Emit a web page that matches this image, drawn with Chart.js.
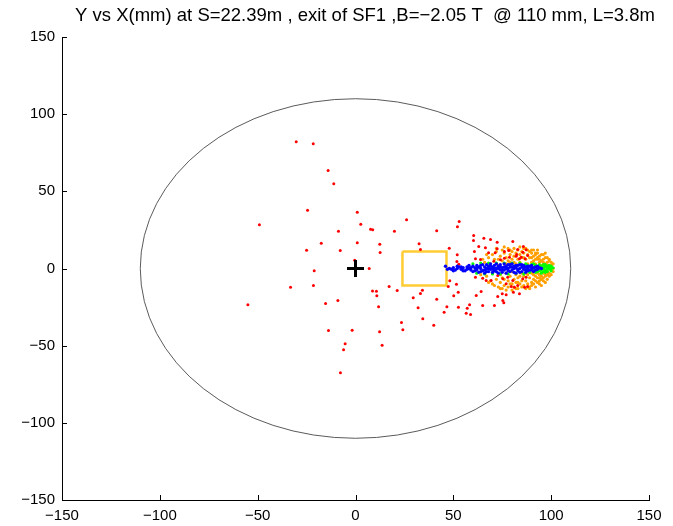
<!DOCTYPE html>
<html>
<head>
<meta charset="utf-8">
<script src="https://cdn.jsdelivr.net/npm/chart.js@4.4.0/dist/chart.umd.min.js"></script>
<style>
  html, body { margin: 0; padding: 0; background: #fff; }
  #wrap { width: 673px; height: 526px; }
</style>
</head>
<body>
<div id="wrap"><canvas id="beamChart"></canvas></div>
<script>
// Chart text and axis ticks
const chartTitle = 'Y vs X(mm) at S=22.39m , exit of SF1 ,B=\u22122.05 T  @ 110 mm, L=3.8m';
const axisMin = -150;
const axisMax = 150;
const tickStep = 50;

// Pipe aperture (mm) and the yellow box corners
const apertureRadius = 110;
const boxX = [24, 46.5, 46.5, 24, 24];
const boxY = [11, 11, -11, -11, 11];

// Beam centre marker
const centreX = [0];
const centreY = [0];

// Red particles (x, y in mm)
const redPoints = [
    [-30.3, 82.1], [-21.6, 80.8], [-14.0, 63.5], [-11.1, 54.9], [-24.5, 37.8], [0.9, 36.5],
    [-49.1, 28.3], [2.7, 28.7], [-8.7, 24.2], [7.7, 25.5], [8.8, 25.1], [19.9, 24.2],
    [26.1, 31.6], [41.5, 24.4], [53.0, 30.5], [52.1, 27.0], [-17.5, 16.4], [0.9, 16.7],
    [12.4, 15.7], [-25.0, 11.9], [-7.8, 11.7], [12.6, 10.4], [32.5, 16.0], [33.2, 12.3],
    [47.9, 13.2], [52.0, 8.9], [-0.4, 5.4], [7.0, 0], [-21.1, -1.5], [-33.2, -12.1],
    [-21.5, -11.0], [17.2, -11.7], [21.3, -14.3], [8.7, -14.5], [10.7, -14.7], [10.9, -17.7],
    [34.2, -14.1], [33.2, -16.2], [29.5, -19.0], [41.5, -19.9], [47.4, -11.7], [48.2, -8.0],
    [51.6, -10.2], [52.5, -15.4], [50.2, -17.7], [52.8, 2.8], [51.8, 4.5], [-55.0, -23.5],
    [-15.3, -22.7], [-9.0, -20.7], [11.8, -24.8], [32.0, -25.5], [34.4, -32.6], [40.0, -36.7],
    [45.3, -28.3], [46.7, -24.8], [57.1, -25.7], [56.6, -29.0], [23.5, -35.0], [24.2, -39.7],
    [-13.8, -40.2], [-1.7, -40.0], [12.3, -41.0], [13.6, -49.7], [-5.3, -48.8], [-6.1, -52.7],
    [-7.7, -67.6],
    [60.4, 21.4], [60.3, 18.1], [65.6, 19.6], [69.0, 18.8], [72.4, 17.0], [80.4, 17.5],
    [63.0, 14.3], [66.4, 13.4], [72.4, 12.8], [68.0, 10.2], [71.4, 10.2], [76.1, 11.0],
    [78.3, 11.7], [82.9, 12.3], [85.8, 14.3], [85.5, 10.6], [87.2, 12.1], [60.8, 11.0],
    [61.3, 6.3], [63.9, 5.8], [70.7, 4.7], [74.1, 5.6], [76.1, 6.7], [78.7, 7.3],
    [82.1, 8.0], [84.7, 7.3], [86.7, 6.3], [88.0, 8.4], [82.4, 9.1], [83.8, 6.3],
    [61.3, -5.6], [65.0, -6.3], [69.3, -7.8], [66.8, -7.8], [72.7, -4.5], [75.3, -6.7],
    [77.0, -9.9], [77.8, -5.6], [80.4, -7.8], [82.9, -11.0], [85.5, -6.7], [87.2, -5.6],
    [86.4, -12.1], [61.7, -17.5], [64.2, -14.9], [72.7, -18.1], [75.0, -16.4], [77.0, -17.0],
    [75.3, -20.7], [75.8, -22.2], [71.0, -24.0], [65.0, -24.0], [58.3, -23.5], [58.8, -29.8],
    [52.6, -25.1], [81.2, -12.1], [79.6, -11.7], [83.8, -16.4], [88.0, -11.7], [80.7, -15.4]
];

// Orange particles
const orangePoints = [
    [66, 4], [67, -5], [68, 7], [69, -8], [69, 3], [70, -3], [70, 9], [70, -10],
    [71, 6], [72, -7], [72, 11], [73, -12], [73, 2], [74, 8], [74, -4], [74, -9],
    [75, 12], [75, -13], [75, 5], [75, -6], [76, 10], [76, -11], [77, 3], [77, -3],
    [77, 7], [78, -8], [78, 13], [78, -12], [79, 9], [79, -5], [79, 4], [80, 11],
    [80, -10], [80, 6], [80, -14], [80, -2], [81, 13], [81, 8], [81, -7], [81, -12],
    [82, 3], [82, -4], [82, 10], [82, -9], [83, 12], [83, -13], [83, 6], [83, -6],
    [84, 9], [84, -10], [84, 4], [84, 14], [85, -3], [85, 11], [85, -8], [85, -12],
    [85, 7], [86, 2], [86, 10], [86, -5], [86, -11], [87, 13], [87, 6], [87, -8],
    [87, -13], [88, 9], [88, -4], [88, 3], [88, -10], [89, 11], [89, -6], [89, 7],
    [89, -12], [90, 4], [90, -9], [90, 10], [90, -3], [90, -11], [91, 8], [91, -7],
    [91, 5], [91, -10], [92, 9], [92, -5], [92, 3], [92, -8], [93, 6], [93, -9],
    [93, -3], [93, 7], [94, 4], [94, -6], [94, 8], [94, -4], [95, 5], [95, -5],
    [95, 2], [95, -7], [96, 4], [96, -3], [96, 6], [97, -4], [97, 3], [97, -5],
    [98, 2], [98, -2], [98, 4], [99, -3], [99, 1], [100, 2], [100, -1], [101, 0],
    [95, 9], [93, 10], [96, -8], [94, -10], [91, 12], [89, -13], [97, 7], [99, 5],
    [73, 6], [76, -7], [78, 5], [79, -10], [81, 4], [83, -9], [84, -5], [86, 7],
    [87, -3], [88, 12], [90, 7], [91, -4], [92, 6], [93, -6], [94, 6], [96, 1],
    [96, 9], [97, -9], [98, 7], [98, -7], [99, 6], [99, -5], [100, 4], [100, -4],
    [101, 3], [101, -2], [97, 10], [95, -11], [93, 12], [92, -12], [96, -6], [98, -4],
    [64, -4], [65, 6], [67, 9], [68, -9], [71, -11], [72, 13], [74, -13], [76, 14],
    [77, -14], [79, 12], [82, -13], [86, 13], [88, -12], [90, 12], [92, 10], [94, -8]
];

// Green particles
const greenPoints = [
    [60, 3], [62, -3], [64, 3.5], [66, -3.5], [68, 3.5], [70, -3.5], [72, 3.5], [74, -3.5],
    [76, 3.5], [78, -3.5], [80, 3.5], [82, -3], [84, 3.5], [86, -3.5], [87, 3], [88, 2],
    [89, -2.5], [90, 2.5], [91, -1], [91, 3], [92, -2.5], [92, 2], [93, 1], [93, -2],
    [94, 2.5], [94, -1.5], [95, -3], [95, 1.5], [96, 0], [96, 2.5], [96, -2], [97, 1],
    [97, -1], [97, 2.5], [98, 0], [98, -2], [98, 1.5], [99, -0.5], [99, 1], [100, 0],
    [100, -1.5], [100, 1.5], [101, 0.5], [94, 0], [95, -1], [96, 1.5], [97, -2.5], [99, 2]
];

// Blue particles
const bluePoints = [
    [46, 1.5], [48, 0], [49, -0.5], [50, 0.5], [51, -1], [52, 0], [53, 1], [54, -0.5],
    [55, 0.5], [56, -1.5], [57, 1], [58, 0], [59, -1], [60, 1.5], [60, -2], [61, 0.5],
    [62, 2], [62, -1], [63, -2.5], [63, 1], [64, 0], [65, 2.5], [65, -1.5], [66, 1],
    [66, -3], [67, 0], [67, 2.5], [68, -2], [68, 1.5], [69, -0.5], [69, 3], [70, -2.5],
    [70, 1], [71, 2], [71, -1.5], [72, 0], [72, 3], [73, -3], [73, 1.5], [74, -1],
    [74, 2.5], [75, 0.5], [75, -2.5], [76, 3], [76, -1], [77, 1.5], [77, -3], [78, 0],
    [78, 2.5], [79, -2], [79, 1], [80, 3], [80, -1], [81, -2.5], [81, 1.5], [82, 0.5],
    [82, -3], [83, 2], [83, -1.5], [84, 0], [84, 2.5], [85, -2], [85, 1], [86, -0.5],
    [86, 2], [87, -2.5], [87, 1], [88, 0], [88, -1.5], [89, 1.5], [90, -1], [90, 0.5],
    [91, -2], [92, 1], [93, -0.5], [94, 0.5], [95, 0],
    [47, -0.5], [50, -1.5], [52, 1.5], [54, 1], [55, -1.5], [57, -0.5], [58, 2], [59, 0.5],
    [61, -1.5], [62, 0], [64, 2], [64, -2], [66, -1], [67, -2], [68, 0], [69, 1.5],
    [70, -0.5], [71, 0], [72, -2], [73, 0], [74, 1], [75, -1], [76, 1], [77, 0],
    [78, -1.5], [79, 2.5], [80, 1], [81, 0], [82, 2], [83, -0.5], [84, -2.5], [85, 2.5],
    [86, 0.5], [87, -1], [88, 1.5], [89, -1], [90, 2], [91, 0.5], [92, -1], [93, 1.5]
];

function toXY(list) {
    return list.map(p => ({ x: p[0], y: p[1] }));
}

function minusSign(v) {
    return String(v).replace('-', '\u2212');
}

const fontFamily = '"Liberation Sans", Arial, Helvetica, sans-serif';

// Aperture ellipse, inward ticks and title
const matlabAxes = {
    id: 'matlabAxes',
    beforeDatasetsDraw(chart) {
        const ctx = chart.ctx;
        const xs = chart.scales.x;
        const ys = chart.scales.y;
        const cx = xs.getPixelForValue(0);
        const cy = ys.getPixelForValue(0);
        const rx = xs.getPixelForValue(apertureRadius) - cx;
        const ry = cy - ys.getPixelForValue(apertureRadius);
        ctx.save();
        ctx.strokeStyle = '#5a5a5a';
        ctx.lineWidth = 1;
        ctx.beginPath();
        ctx.ellipse(cx, cy, rx, ry, 0, 0, Math.PI * 2);
        ctx.stroke();
        ctx.restore();
    },
    afterDraw(chart) {
        const ctx = chart.ctx;
        const area = chart.chartArea;
        const xs = chart.scales.x;
        const ys = chart.scales.y;
        ctx.save();
        ctx.strokeStyle = '#000';
        ctx.lineWidth = 1;
        ctx.beginPath();
        xs.ticks.forEach(t => {
            const px = Math.round(xs.getPixelForValue(t.value)) + 0.5;
            ctx.moveTo(px, area.bottom);
            ctx.lineTo(px, area.bottom - 5);
        });
        ys.ticks.forEach(t => {
            const py = Math.round(ys.getPixelForValue(t.value)) + 0.5;
            ctx.moveTo(area.left, py);
            ctx.lineTo(area.left + 5, py);
        });
        ctx.stroke();

        ctx.fillStyle = '#000';
        ctx.font = '18.5px ' + fontFamily;
        ctx.textAlign = 'center';
        ctx.textBaseline = 'alphabetic';
        ctx.fillText(chartTitle, 365, 21);
        ctx.restore();
    }
};

const ctx = document.getElementById('beamChart').getContext('2d');
new Chart(ctx, {
    type: 'scatter',
    plugins: [matlabAxes],
    data: {
        datasets: [{
            label: 'centre',
            data: centreX.map((x, i) => ({ x: x, y: centreY[i] })),
            pointStyle: 'cross',
            pointRadius: 8.5,
            borderColor: '#000',
            borderWidth: 3
        }, {
            label: 'blue',
            data: toXY(bluePoints),
            pointRadius: 1.7,
            backgroundColor: '#0000ff',
            borderWidth: 0
        }, {
            label: 'green',
            data: toXY(greenPoints),
            pointRadius: 1.6,
            backgroundColor: '#00ff00',
            borderWidth: 0
        }, {
            label: 'red',
            data: toXY(redPoints),
            pointRadius: 1.5,
            backgroundColor: '#ff0000',
            borderWidth: 0
        }, {
            label: 'orange',
            data: toXY(orangePoints),
            pointRadius: 1.6,
            backgroundColor: '#ffa000',
            borderWidth: 0
        }, {
            label: 'box',
            data: boxX.map((x, i) => ({ x: x, y: boxY[i] })),
            showLine: true,
            pointRadius: 0,
            borderColor: '#ffcc33',
            borderWidth: 2.5,
            fill: false
        }]
    },
    options: {
        responsive: true,
        maintainAspectRatio: false,
        animation: false,
        layout: { padding: { top: 37, right: 24, left: 0, bottom: 0 } },
        plugins: {
            legend: { display: false },
            title: { display: false },
            tooltip: { enabled: false }
        },
        scales: {
            x: {
                type: 'linear',
                min: axisMin,
                max: axisMax,
                grid: { display: false, drawTicks: false },
                border: { display: true, color: '#000', width: 1 },
                ticks: {
                    stepSize: tickStep,
                    color: '#000',
                    padding: 7,
                    maxRotation: 0,
                    font: { size: 15, family: fontFamily },
                    callback: v => minusSign(v)
                },
                afterFit: s => { s.height = 26; }
            },
            y: {
                type: 'linear',
                min: axisMin,
                max: axisMax,
                grid: { display: false, drawTicks: false },
                border: { display: true, color: '#000', width: 1 },
                ticks: {
                    stepSize: tickStep,
                    color: '#000',
                    padding: 7,
                    font: { size: 15, family: fontFamily },
                    callback: v => minusSign(v)
                },
                afterFit: s => { s.width = 62; }
            }
        }
    }
});
</script>
</body>
</html>
